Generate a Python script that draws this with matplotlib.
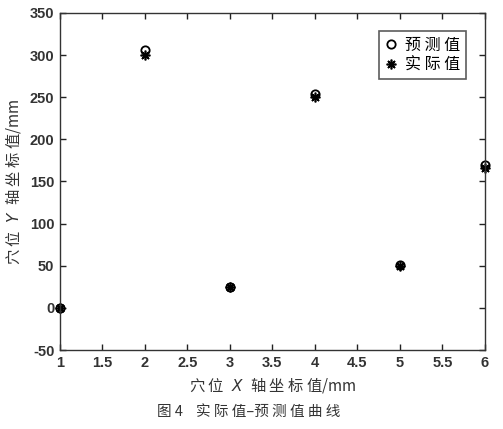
import matplotlib
matplotlib.use("Agg")
import matplotlib.pyplot as plt

plt.rcParams['font.family'] = ['Noto Sans CJK SC', 'DejaVu Sans']
plt.rcParams['axes.unicode_minus'] = False

x_pos = [1, 2, 3, 4, 5, 6]
predicted = [0, 306, 25, 254, 51, 170]
actual = [0, 300, 25, 250, 50, 166]
xticks = [1, 1.5, 2, 2.5, 3, 3.5, 4, 4.5, 5, 5.5, 6]
xticklabels = ['1', '1.5', '2', '2.5', '3', '3.5', '4', '4.5', '5', '5.5', '6']
yticks = [-50, 0, 50, 100, 150, 200, 250, 300, 350]

fig = plt.figure(figsize=(5.03, 4.29), dpi=100)
ax = fig.add_axes([0.119, 0.184, 0.845, 0.786])

ax.plot(x_pos, predicted, linestyle='none', marker='o', markersize=6,
        markerfacecolor='none', markeredgecolor='black', markeredgewidth=1.3,
        label='预 测 值', clip_on=False)
ax.plot(x_pos, actual, linestyle='none', marker=(8, 2, 0), markersize=7,
        color='black', markeredgewidth=1.2, label='实 际 值', clip_on=False)

ax.set_xlim(1, 6)
ax.set_ylim(-50, 350)
ax.set_xticks(xticks)
ax.set_xticklabels(xticklabels)
ax.set_yticks(yticks)
ax.tick_params(direction='in', top=True, right=True, length=4, width=1,
               labelsize=10.5, colors='#222222', pad=4)
for lab in ax.get_xticklabels() + ax.get_yticklabels():
    lab.set_fontfamily('Liberation Sans')
    lab.set_fontweight('bold')
    lab.set_color('#333333')
for s in ax.spines.values():
    s.set_linewidth(1.0)
    s.set_color('#333333')

ax.set_xlabel('穴 位 $\\ \\it{X}\\ $ 轴 坐 标 值/mm', fontsize=11, color='#333333', labelpad=4)
ax.set_ylabel('穴 位 $\\ \\it{Y}\\ $ 轴 坐 标 值/mm', fontsize=11, color='#333333', labelpad=5)

leg = ax.legend(loc='upper right', fontsize=11.5, frameon=True, fancybox=False,
                edgecolor='#333333', handlelength=0.8, handletextpad=0.5,
                borderpad=0.35, labelspacing=0.2, markerfirst=True,
                bbox_to_anchor=(0.975, 0.97))
leg.get_frame().set_linewidth(1.2)

fig.text(0.495, 0.04, '图 4    实 际 值–预 测 值 曲 线', ha='center', va='center',
         fontsize=10.5, color='#333333')

fig.savefig('out.png', dpi=100)
